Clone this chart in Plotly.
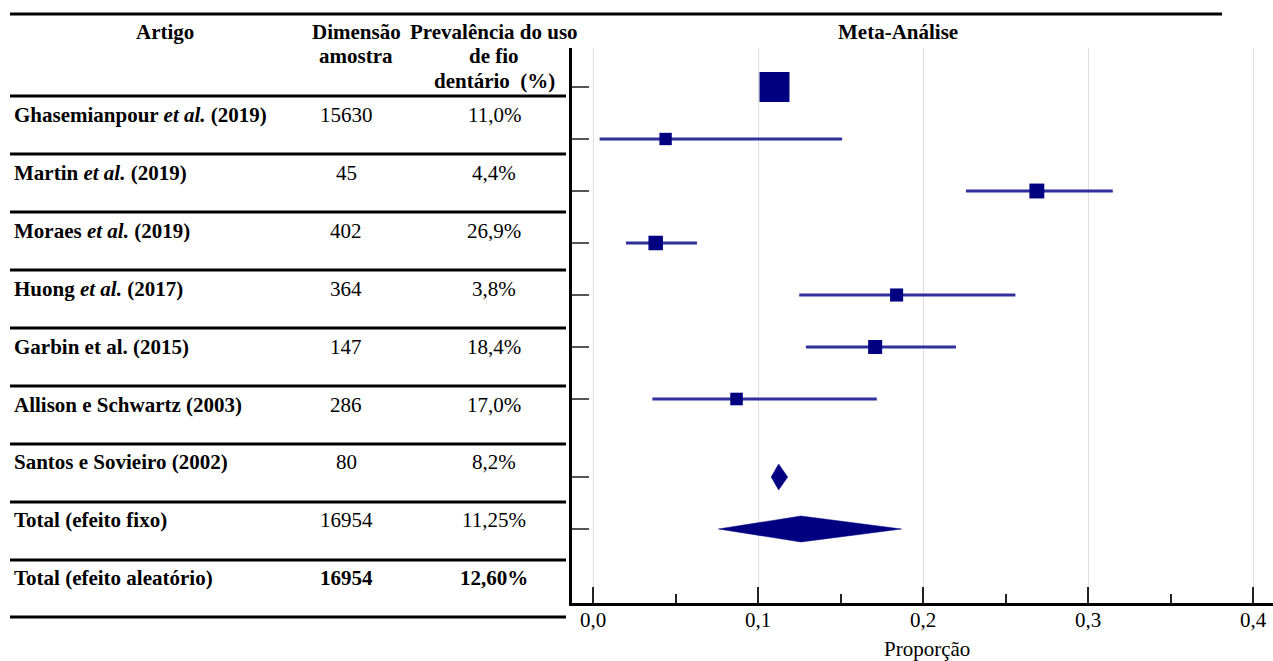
import plotly.graph_objects as go

# ---------------- data ----------------
artigos = [
    "Ghasemianpour et al. (2019)",
    "Martin et al. (2019)",
    "Moraes et al. (2019)",
    "Huong et al. (2017)",
    "Garbin et al. (2015)",
    "Allison e Schwartz (2003)",
    "Santos e Sovieiro (2002)",
    "Total (efeito fixo)",
    "Total (efeito aleatório)",
]
etal_italico = [True, True, True, True, False, False, False, False, False]
amostra = ["15630", "45", "402", "364", "147", "286", "80", "16954", "16954"]
prevalencia = ["11,0%", "4,4%", "26,9%", "3,8%", "18,4%", "17,0%", "8,2%", "11,25%", "12,60%"]

cab_artigo = ["Artigo"]
cab_dimensao = ["Dimensão", "amostra"]
cab_prevalencia = ["Prevalência do uso", "de fio", "dentário  (%)"]
cab_meta = "Meta-Análise"
titulo_x = "Proporção"

# forest plot (studies)
estudo_prop = [0.110, 0.044, 0.269, 0.038, 0.184, 0.171, 0.087]
estudo_li = [0.105, 0.004, 0.226, 0.020, 0.125, 0.129, 0.036]
estudo_ls = [0.115, 0.151, 0.315, 0.063, 0.256, 0.220, 0.172]
estudo_peso = [92.2, 0.3, 2.4, 2.1, 0.9, 1.7, 0.5]

# pooled estimates (fixed, random)
total_prop = [0.1125, 0.126]
total_li = [0.108, 0.076]
total_ls = [0.118, 0.187]

x_tickvals = [0.0, 0.1, 0.2, 0.3, 0.4]
x_ticktext = ["0,0", "0,1", "0,2", "0,3", "0,4"]
x_minor = [0.05, 0.15, 0.25, 0.35]

# ---------------- layout helpers ----------------
W, H = 1273, 661
FONT = "Liberation Serif"
FS = 21
NAVY = "#000080"
CI_COL = "#30309c"


def px(x):
    return x / W


def py(y):
    return 1 - y / H


ys_est = list(range(len(estudo_prop)))
ys_tot = [len(estudo_prop) + 0.5, len(estudo_prop) + 1.5]

fig = go.Figure()

# CI lines
cx, cy = [], []
for p, lo, hi, y in zip(estudo_prop, estudo_li, estudo_ls, ys_est):
    cx += [lo, hi, None]
    cy += [y, y, None]
fig.add_trace(go.Scatter(x=cx, y=cy, mode="lines",
                         line=dict(color=CI_COL, width=3),
                         hoverinfo="skip", showlegend=False))

# squares
maxw = max(estudo_peso)
sizes = [30 if w == maxw else 12 + 1.2 * w for w in estudo_peso]
fig.add_trace(go.Scatter(x=estudo_prop, y=ys_est, mode="markers",
                         marker=dict(symbol="square", color=NAVY, size=sizes,
                                     opacity=1, line=dict(width=0)),
                         showlegend=False))

# diamonds
h = 0.25
for p, lo, hi, y in zip(total_prop, total_li, total_ls, ys_tot):
    fig.add_trace(go.Scatter(x=[lo, p, hi, p, lo], y=[y, y - h, y, y + h, y],
                             mode="lines", fill="toself", fillcolor=NAVY,
                             line=dict(color=NAVY, width=0.5),
                             showlegend=False, hoverinfo="skip"))

y_top_px, y_bot_px = 48, 603
row0_px, row_step = 87, 52
ymin = -(row0_px - y_top_px) / row_step
ymax = (y_bot_px - row0_px) / row_step
x0_px, unit = 593, 1650
xmin = (572 - x0_px) / unit
xmax = (W - x0_px) / unit

fig.update_layout(
    width=W, height=H,
    margin=dict(l=0, r=0, t=0, b=0),
    paper_bgcolor="white", plot_bgcolor="white",
    separators=",.",
    showlegend=False,
    xaxis=dict(
        domain=[px(572), 1], range=[xmin, xmax],
        tickvals=x_tickvals, ticktext=x_ticktext,
        ticks="inside", ticklen=16, tickwidth=2, tickcolor="#222",
        showgrid=True, gridcolor="#dedede", gridwidth=1,
        showline=True, linecolor="black", linewidth=3, zeroline=False,
        tickfont=dict(family=FONT, size=FS, color="black"),
        ticklabelstandoff=-4,
        minor=dict(tickvals=x_minor, ticks="inside", ticklen=9, tickwidth=2,
                   tickcolor="#222", showgrid=False),
    ),
    yaxis=dict(
        domain=[py(y_bot_px), py(y_top_px)], range=[ymax, ymin],
        tickvals=ys_est + ys_tot, ticks="inside", ticklen=17, tickwidth=2,
        tickcolor="#555", showticklabels=False, showgrid=False,
        showline=True, linecolor="black", linewidth=3, zeroline=False,
    ),
)

# table lines
shapes = [dict(type="line", xref="paper", yref="paper",
               x0=px(10), x1=px(1222), y0=py(14), y1=py(14),
               line=dict(color="black", width=3))]
row_lines = [96, 154, 212, 270, 328, 386, 444, 502, 560, 617]
for yl in row_lines:
    shapes.append(dict(type="line", xref="paper", yref="paper",
                       x0=px(10), x1=px(566), y0=py(yl), y1=py(yl),
                       line=dict(color="black", width=3)))
fig.update_layout(shapes=shapes)


def ann(text, x, y, anchor="center", bold=False):
    t = f"<b>{text}</b>" if bold else text
    fig.add_annotation(text=t, x=px(x), y=py(y), xref="paper", yref="paper",
                       xanchor=anchor, yanchor="middle", showarrow=False,
                       font=dict(family=FONT, size=FS, color="black"))


# headers
ann(cab_artigo[0], 165, 32, bold=True)
for i, t in enumerate(cab_dimensao):
    ann(t, 356, 32 + 24.5 * i, bold=True)
for i, t in enumerate(cab_prevalencia):
    ann(t, 494, 32 + 24.5 * i, bold=True)
ann(cab_meta, 898, 32, bold=True)

# rows
for i, (a, n, p) in enumerate(zip(artigos, amostra, prevalencia)):
    yrow = 115 + 57.9 * i
    label = a.replace("et al.", "<i>et al.</i>") if etal_italico[i] else a
    ann(label, 12, yrow, anchor="left", bold=True)
    last = i == len(artigos) - 1
    ann(n, 346, yrow, bold=last)
    ann(p, 494, yrow, bold=last)

ann(titulo_x, 927, 649)

fig.write_html(
    "out.html",
    config={"displayModeBar": False},
    post_script="document.body.style.margin='0';document.body.style.overflow='hidden';",
)
